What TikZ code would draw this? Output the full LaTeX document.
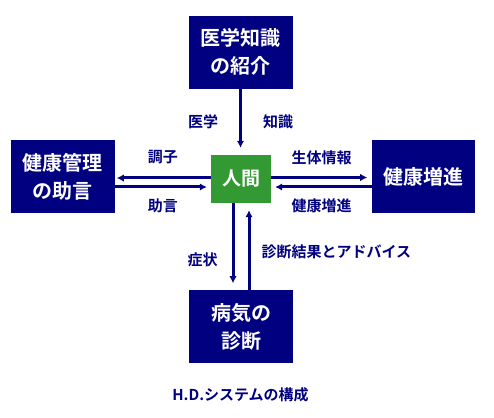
\documentclass[tikz,border=0pt]{standalone}
\usepackage{fontspec}
\setmainfont{Noto Sans CJK JP}[BoldFont={Noto Sans CJK JP Bold}]
\usepackage{tikz}
\usetikzlibrary{arrows.meta}
\usetikzlibrary{calc,positioning}
\newcommand{\createlength}[2]{\newlength{#1}\setlength{#1}{#2}}
\definecolor{hdnavy}{RGB}{0,0,128}
\definecolor{hdgreen}{RGB}{51,153,51}
\tikzset{
  bigbox/.style={fill=hdnavy, text=white, minimum width=104pt, minimum height=73pt,
    align=center, inner sep=0, font=\fontsize{20}{28}\selectfont\bfseries},
  manbox/.style={fill=hdgreen, text=white, minimum width=60pt, minimum height=48pt,
    inner sep=0, font=\fontsize{19}{24}\selectfont\bfseries},
  lbl/.style={text=hdnavy, inner sep=0, font=\fontsize{15}{18}\selectfont\bfseries},
  flow/.style={hdnavy, line width=3pt, -{Latex[length=7pt,width=7.5pt]}},
}

\begin{document}
\begin{tikzpicture}
\createlength{\hdgapup}{66pt}
\createlength{\hdgapleft}{96pt}
\createlength{\hdgapright}{101pt}
\createlength{\hdgapdown}{87pt}
%%%%%%%%%%%%%%%%%%%%%%%%%%%%
%%%%%%%%% Boxes. %%%%%%%%%%%
%%%%%%%%%%%%%%%%%%%%%%%%%%%%
\node[manbox] (human) {人間};
\node[bigbox, above=\hdgapup of human, xshift=-0.5pt] (knowledge) {医学知識\\の紹介};
\node[bigbox, left=\hdgapleft of human, yshift=2.5pt] (advice) {健康管理\\の助言};
\node[bigbox, right=\hdgapright of human, yshift=2.5pt, minimum width=103pt] (promote) {健康増進};
\node[bigbox, below=\hdgapdown of human] (diagnosis) {病気の\\診断};
\useasboundingbox ($(human.center)+(-241pt,179pt)$) rectangle ($(human.center)+(253pt,-238pt)$);
%%%%%%%%%%%%%%%%%%%%%%%%%%%%
%%%%%%%%% Top. %%%%%%%%%%%%%
%%%%%%%%%%%%%%%%%%%%%%%%%%%%
\draw[flow, shorten >=7pt] (knowledge.south) -- (knowledge.south |- human.north)
    node[lbl, midway, left=21pt] (igaku) {医学}
    node[lbl, midway, right=21pt] (chishiki) {知識};
%%%%%%%%%%%%%%%%%%%%%%%%%%%%
%%%%%%%%% Left. %%%%%%%%%%%%
%%%%%%%%%%%%%%%%%%%%%%%%%%%%
\coordinate (hl1) at ($(human.west)+(0,1pt)$);
\coordinate (hl2) at ($(human.west)+(0,-8pt)$);
\draw[flow, shorten >=2pt] (hl1) -- (hl1 -| advice.east)
    node[lbl, midway, above=13pt] (choshi) {調子};
\draw[flow, shorten >=4pt] (hl2 -| advice.east) -- (hl2)
    node[lbl, midway, below=10.5pt] (jogen) {助言};
%%%%%%%%%%%%%%%%%%%%%%%%%%%%
%%%%%%%%% Right. %%%%%%%%%%%
%%%%%%%%%%%%%%%%%%%%%%%%%%%%
\coordinate (hr1) at ($(human.east)+(0,1.5pt)$);
\coordinate (hr2) at ($(human.east)+(0,-8pt)$);
\draw[flow, shorten >=5pt] (hr1) -- (hr1 -| promote.west)
    node[lbl, midway, above=11pt] (seitai) {生体情報};
\draw[flow, shorten >=4pt] (hr2 -| promote.west) -- (hr2)
    node[lbl, midway, below=10.5pt] (zoshin) {健康増進};
%%%%%%%%%%%%%%%%%%%%%%%%%%%%
%%%%%%%%% Bottom. %%%%%%%%%%
%%%%%%%%%%%%%%%%%%%%%%%%%%%%
\coordinate (hb1) at ($(human.south)+(-8pt,0)$);
\coordinate (hb2) at ($(human.south)+(8pt,0)$);
\draw[flow, shorten >=7pt] (hb1) -- (hb1 |- diagnosis.north)
    node[lbl, pos=0.65, left=14pt] (shojo) {症状};
\draw[flow, shorten >=7pt] (hb2 |- diagnosis.north) -- (hb2)
    node[lbl, pos=0.44, right=11pt] (kekka) {診断結果とアドバイス};
%%%%%%%%%%%%%%%%%%%%%%%%%%%%
%%%%%%%%% Caption. %%%%%%%%%
%%%%%%%%%%%%%%%%%%%%%%%%%%%%
\node[lbl, below=24pt of diagnosis, xshift=-0.5pt] (caption) {H.D.システムの構成};
\end{tikzpicture}
\end{document}
